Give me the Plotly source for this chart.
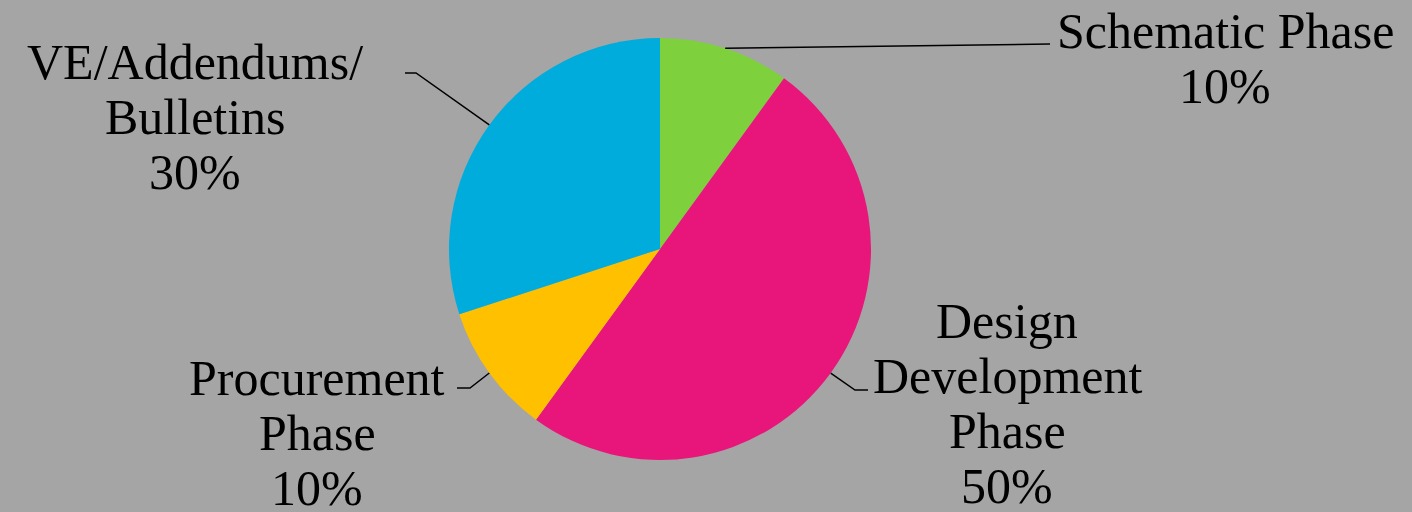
import math
import plotly.graph_objects as go

categories = ["Schematic Phase", "Design Development Phase", "Procurement Phase", "VE/Addendums/ Bulletins"]
values = [10, 50, 10, 30]
colors = ["#7ED13D", "#E8157A", "#FFC000", "#00ACDC"]
label_lines = [["Schematic Phase", "10%"],
               ["Design", "Development", "Phase", "50%"],
               ["Procurement", "Phase", "10%"],
               ["VE/Addendums/", "Bulletins", "30%"]]

W, H = 1412, 512
cx, cy, R = 660, 249, 211
LINE = 55

fig = go.Figure(go.Pie(
    labels=categories, values=values, sort=False, direction="clockwise", rotation=0,
    marker=dict(colors=colors, line=dict(width=0)), textinfo="none", hoverinfo="label+percent",
    domain=dict(x=[(cx - R) / W, (cx + R) / W], y=[(H - cy - R) / H, (H - cy + R) / H]),
    showlegend=False,
))

# label placement: text centre x and first-line centre y (pixels), leader elbows
label_pos = [(1225, 31), (1007, 321), (317, 378), (195, 62)]
elbows = [[(1050, 44)], [(855, 390), (868, 390)], [(470, 388), (457, 388)], [(416, 73), (405, 73)]]

shapes = []
annotations = []
total = sum(values)
cum = 0
for i, v in enumerate(values):
    mid = (cum + v / 2) / total * 2 * math.pi
    cum += v
    sx = cx + R * math.sin(mid)
    sy = cy - R * math.cos(mid)
    pts = [(sx, sy)] + elbows[i]
    path = "M " + " L ".join(f"{x / W:.5f},{1 - y / H:.5f}" for x, y in pts)
    shapes.append(dict(type="path", path=path, xref="paper", yref="paper",
                       line=dict(color="black", width=1.5)))
    lx, ly = label_pos[i]
    for j, line in enumerate(label_lines[i]):
        annotations.append(dict(text=line, x=lx / W, y=1 - (ly + j * LINE) / H, xref="paper", yref="paper",
                                showarrow=False, xanchor="center", yanchor="middle", align="center",
                                font=dict(family="Liberation Serif", size=50, color="black")))

fig.update_layout(
    width=W, height=H, margin=dict(l=0, r=0, t=0, b=0),
    paper_bgcolor="#A5A5A5", plot_bgcolor="#A5A5A5",
    shapes=shapes, annotations=annotations,
)
fig.write_html("out.html")
